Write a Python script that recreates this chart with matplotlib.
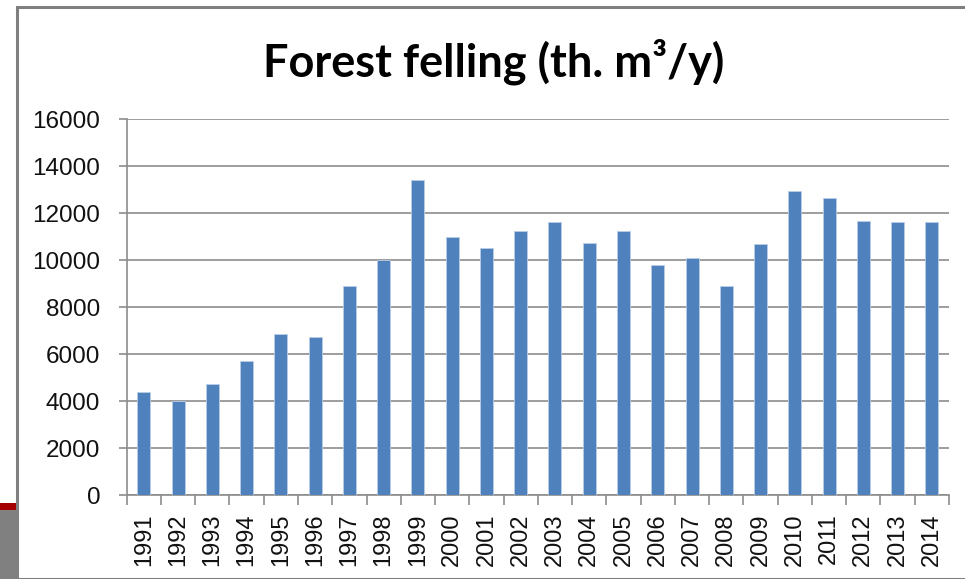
import matplotlib
matplotlib.use('Agg')
import matplotlib.pyplot as plt
from matplotlib.patches import Rectangle
import numpy as np

years = ['1991', '1992', '1993', '1994', '1995', '1996', '1997', '1998',
         '1999', '2000', '2001', '2002', '2003', '2004', '2005', '2006',
         '2007', '2008', '2009', '2010', '2011', '2012', '2013', '2014']
felling = [4380, 4000, 4720, 5690, 6840, 6710, 8920, 10000,
           13420, 11000, 10500, 11250, 11640, 10720, 11250, 9780,
           10110, 8920, 10700, 12930, 12650, 11680, 11640, 11640]
yticks = [0, 2000, 4000, 6000, 8000, 10000, 12000, 14000, 16000]

fig = plt.figure(figsize=(9.65, 5.79), dpi=100)

# slide decoration / chart frame
W, H = 965.0, 579.0
fig.patches.append(Rectangle((17 / W, 0), 1.0, (H - 6.5) / H, transform=fig.transFigure,
                             fill=False, edgecolor='#7f7f7f', linewidth=2.2))
fig.patches.append(Rectangle((0, (H - 510) / H), 16 / W, 6.7 / H, transform=fig.transFigure,
                             facecolor='#a50000', edgecolor='none'))
fig.patches.append(Rectangle((0, 0), 16 / W, (H - 510) / H, transform=fig.transFigure,
                             facecolor='#808080', edgecolor='none'))

ax = fig.add_axes([126.7 / W, 1 - 495 / H, (949 - 126.7) / W, (495 - 119.3) / H])

x = np.arange(len(years))
ax.bar(x, felling, width=0.38, color='#4f81bd', edgecolor='#b9cde5', linewidth=0.6, zorder=3)

ax.set_xlim(-0.5, len(years) - 0.5)
ax.set_ylim(0, 16000)
ax.set_yticks(yticks)
ax.set_yticklabels([str(v) for v in yticks], fontsize=17.5, family='Liberation Sans', color='#111111')
ax.yaxis.grid(True, color='#8c8c8c', linewidth=1.2, zorder=0)

# category labels centered, tick marks on the boundaries
ax.set_xticks(x)
ax.set_xticklabels(years, rotation=90, fontsize=17, family='Liberation Sans', color='#111111')
ax.tick_params(axis='x', length=0, pad=13)
ax.set_xticks(np.arange(len(years) + 1) - 0.5, minor=True)
ax.tick_params(axis='x', which='minor', length=7, color='#8c8c8c', width=1.2)
ax.tick_params(axis='y', length=6, color='#8c8c8c', width=1.2, pad=13)

for s in ['top', 'right']:
    ax.spines[s].set_visible(False)
for s in ['left', 'bottom']:
    ax.spines[s].set_color('#8c8c8c')
    ax.spines[s].set_linewidth(1.2)

fig.text(0.512, 1 - 62 / H, 'Forest felling (th. m³/y)', ha='center', va='center',
         fontsize=32.5, fontweight='bold', family=['Lato', 'DejaVu Sans'])

fig.savefig('out.png', dpi=100)
